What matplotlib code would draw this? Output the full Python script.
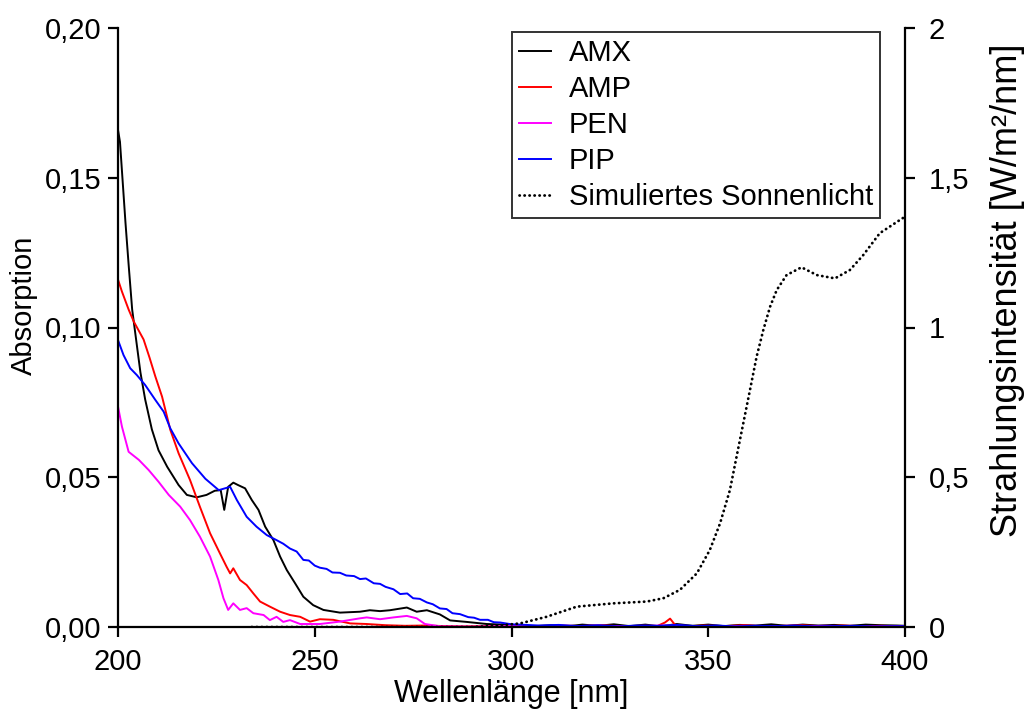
import numpy as np
import matplotlib
matplotlib.use("Agg")
import matplotlib.pyplot as plt
from matplotlib.ticker import FixedLocator, FixedFormatter

plt.rcParams["font.family"] = ["Liberation Sans", "DejaVu Sans"]

# Absorption spectra (wavelength in nm, absorbance)
amx_wl = [200, 200.5, 201.9, 202.7, 203.6, 204.4, 205.7, 206.9, 208.6, 210.3, 212.5, 215.4,
          217.5, 220, 222.5, 224.6, 226.1, 227, 228, 229.3, 230.5, 232.3, 234, 235.7, 237.4,
          239.5, 241.2, 242.9, 245, 247.1, 249.6, 252.2, 256.4, 261.5, 264, 266.6, 269.1,
          273.4, 275.9, 278.5, 281.8, 284.4, 288.6, 293.7, 298, 302, 306, 310, 314, 318, 322,
          326, 330, 334, 338, 342, 346, 350, 354, 358, 362, 366, 370, 374, 378, 382, 386, 390,
          394, 398, 400]
amx_abs = [0.166, 0.162, 0.135, 0.121, 0.106, 0.098, 0.085, 0.076, 0.066, 0.059, 0.0535, 0.0474,
           0.0441, 0.0433, 0.0441, 0.0455, 0.0457, 0.0391, 0.0468, 0.0482, 0.0474, 0.0463, 0.0424,
           0.0391, 0.0335, 0.029, 0.0235, 0.019, 0.0146, 0.0101, 0.0073, 0.0057, 0.0048, 0.0051,
           0.0056, 0.0053, 0.0056, 0.0065, 0.0051, 0.0056, 0.0042, 0.0022, 0.0017, 0.001, 0.0008,
           0.0005, 0.0003, 0.0006, 0.0002, 0.0008, 0.0004, 0.0009, 0.0003, 0.0008, 0.0002, 0.0010,
           0.0004, 0.0008, 0.0003, 0.0007, 0.0005, 0.0009, 0.0004, 0.0008, 0.0005, 0.0007, 0.0004,
           0.0008, 0.0006, 0.0005, 0.0004]

amp_wl = [200, 201, 202.7, 204, 206.5, 208, 209.5, 211.2, 213.3, 215.4, 218.3, 220.8, 223.4,
          225.9, 227.6, 228.5, 229.3, 231, 232.7, 234.4, 236.1, 238.6, 241.2, 243.7, 246.3, 248.8,
          251.3, 254.7, 259, 263.2, 268, 273, 278, 283, 288, 293, 298, 303, 308, 313, 318, 323,
          328, 333, 337, 339, 340.3, 341.5, 344, 349, 354, 359, 364, 369, 374, 379, 384, 389, 394,
          400]
amp_abs = [0.116, 0.112, 0.106, 0.102, 0.096, 0.090, 0.0836, 0.0769, 0.0658, 0.058, 0.0491,
           0.0402, 0.0313, 0.0246, 0.0201, 0.0179, 0.0196, 0.0157, 0.014, 0.0112, 0.0085, 0.0068,
           0.0051, 0.004, 0.0034, 0.0018, 0.0026, 0.0024, 0.0012, 0.001, 0.0006, 0.0004, 0.0005,
           0.0003, 0.0002, 0.0003, 0.0002, 0.0004, 0.0001, 0.0005, 0.0003, 0.0006, 0.0002, 0.0004,
           0.0003, 0.0015, 0.0028, 0.0008, 0.0002, 0.0005, 0.0003, 0.0006, 0.0002, 0.0004, 0.0006,
           0.0002, 0.0005, 0.0003, 0.0004, 0.0002]

pen_wl = [200, 201, 202.7, 205.3, 207.8, 210.3, 212.9, 215.8, 218.3, 220.8, 223.4, 225.5, 226.8,
          228, 229.3, 231, 232.7, 234.4, 237, 238.6, 240.3, 242, 243.7, 246.3, 251.3, 256.4, 261.5,
          263.2, 266.6, 270, 273.4, 275.9, 278, 282, 290, 300, 310, 320, 330, 340, 350, 360, 370,
          380, 390, 400]
pen_abs = [0.0736, 0.0669, 0.0585, 0.0558, 0.0524, 0.0485, 0.0441, 0.0402, 0.0357, 0.0302, 0.0235,
           0.0157, 0.0096, 0.0057, 0.0079, 0.0057, 0.0063, 0.0046, 0.004, 0.0023, 0.0034, 0.0017,
           0.0023, 0.001, 0.001, 0.0018, 0.0029, 0.0032, 0.0026, 0.0032, 0.0037, 0.0029, 0.001,
           0.0002, 0.0001, 0.0003, 0.0002, 0.0004, 0.0003, 0.0005, 0.0002, 0.0004, 0.0003, 0.0004,
           0.0002, 0.0003]

pip_wl = [200, 201.4, 203.1, 204.8, 206.9, 209.5, 211.6, 213.3, 215.4, 218.8, 222.2, 225.6,
          228.5, 230.2, 232.7, 235.2, 237.8, 240.3, 242, 243.7, 245.4, 247.1, 248.5, 250, 251.3,
          253, 254.5, 256.4, 258, 260, 261.5, 263, 265, 266.6, 268, 270, 271.7, 273.5, 275, 276.7,
          278.5, 280, 281.8, 283.5, 285, 286.9, 289, 290.5, 292, 294, 295.5, 297.1, 300, 302, 307,
          312, 317, 322, 327, 332, 337, 342, 347, 352, 357, 362, 367, 372, 377, 382, 387, 392, 400]
pip_abs = [0.0958, 0.0908, 0.0864, 0.0841, 0.0808, 0.0758, 0.0719, 0.0663, 0.0613, 0.0547,
           0.0495, 0.0457, 0.0468, 0.0424, 0.0368, 0.0335, 0.0307, 0.029, 0.0278, 0.0262, 0.0252,
           0.0224, 0.0222, 0.0205, 0.0198, 0.0194, 0.0182, 0.0181, 0.0172, 0.0170, 0.0160, 0.0162,
           0.0146, 0.0144, 0.0134, 0.0126, 0.0110, 0.0112, 0.0096, 0.0094, 0.0082, 0.0076, 0.0062,
           0.0060, 0.0046, 0.0043, 0.0033, 0.0031, 0.0024, 0.0024, 0.0016, 0.0015, 0.0009, 0.0008,
           0.0005, 0.0007, 0.0003, 0.0006, 0.0002, 0.0005, 0.0004, 0.0007, 0.0003, 0.0005, 0.0002,
           0.0004, 0.0003, 0.0005, 0.0002, 0.0003, 0.0004, 0.0002, 0.0003]

# Simulated sunlight (right axis, W/m^2/nm)
sun_wl = [234, 250, 270, 290, 296, 302.2, 308.9, 316.6, 325.9, 334.4, 338.6, 342.8, 347.1,
          350.4, 353, 355.5, 357.2, 358.9, 360.6, 362.3, 364, 365.7, 367.4, 369.9, 373.7, 377.6,
          382.2, 386, 389.4, 393.6, 398.7, 400]
sun_int = [0.0, 0.0, 0.0, 0.0, 0.004, 0.012, 0.034, 0.068, 0.079, 0.085, 0.096, 0.124, 0.179,
           0.257, 0.346, 0.457, 0.569, 0.680, 0.791, 0.903, 0.992, 1.069, 1.125, 1.175, 1.201,
           1.175, 1.164, 1.192, 1.242, 1.315, 1.359, 1.37]

fig = plt.figure(figsize=(10.24, 7.16), dpi=100)
ax = fig.add_axes([118 / 1024, 1 - 627 / 716, (905 - 118) / 1024, (627 - 28) / 716])
ax2 = ax.twinx()

lw = 1.4
l1, = ax.plot(amx_wl, amx_abs, color="black", lw=lw, label="AMX")
l2, = ax.plot(amp_wl, amp_abs, color="#ff0000", lw=lw, label="AMP")
l3, = ax.plot(pen_wl, pen_abs, color="#ff00ff", lw=lw, label="PEN")
l4, = ax.plot(pip_wl, pip_abs, color="#0000ff", lw=lw, label="PIP")
l5, = ax2.plot(sun_wl, sun_int, color="black", lw=2.0, linestyle=(0, (0.1, 1.7)),
               dash_capstyle="round", label="Simuliertes Sonnenlicht")

ax.set_xlim(200, 400)
ax.set_ylim(0, 0.2)
ax2.set_ylim(0, 2)

ax.xaxis.set_major_locator(FixedLocator([200, 250, 300, 350, 400]))
ax.yaxis.set_major_locator(FixedLocator([0, 0.05, 0.10, 0.15, 0.20]))
ax.yaxis.set_major_formatter(FixedFormatter(["0,00", "0,05", "0,10", "0,15", "0,20"]))
ax2.yaxis.set_major_locator(FixedLocator([0, 0.5, 1, 1.5, 2]))
ax2.yaxis.set_major_formatter(FixedFormatter(["0", "0,5", "1", "1,5", "2"]))

for a in (ax, ax2):
    a.spines["top"].set_visible(False)
    for s in ("left", "right", "bottom"):
        a.spines[s].set_linewidth(1.6)
    a.tick_params(direction="out", length=7, width=1.6, labelsize=21)
ax.spines["right"].set_visible(False)
ax2.spines["left"].set_visible(False)
ax2.spines["bottom"].set_visible(False)
ax.tick_params(axis="x", pad=8)
ax.tick_params(axis="y", pad=5)
ax2.tick_params(axis="y", pad=10)

ax.set_xlabel("Wellenlänge [nm]", fontsize=22, labelpad=2)
ax.set_ylabel("Absorption", fontsize=21)
ax.yaxis.set_label_coords(-0.1017, 0.5376)
ax2.set_ylabel("Strahlungsintensität [W/m²/nm]", fontsize=26)
ax2.yaxis.set_label_coords(1.108, 0.5626)

leg = fig.legend(handles=[l1, l2, l3, l4, l5], loc="upper left",
                 bbox_to_anchor=(512 / 1024, 1 - 32 / 716), bbox_transform=fig.transFigure,
                 fontsize=21, frameon=True, fancybox=False, handlelength=1.1,
                 handletextpad=0.6, labelspacing=0.27, borderpad=0.25, borderaxespad=0)
leg.get_frame().set_edgecolor("black")
leg.get_frame().set_linewidth(1.4)

fig.savefig("out.png", dpi=100)
